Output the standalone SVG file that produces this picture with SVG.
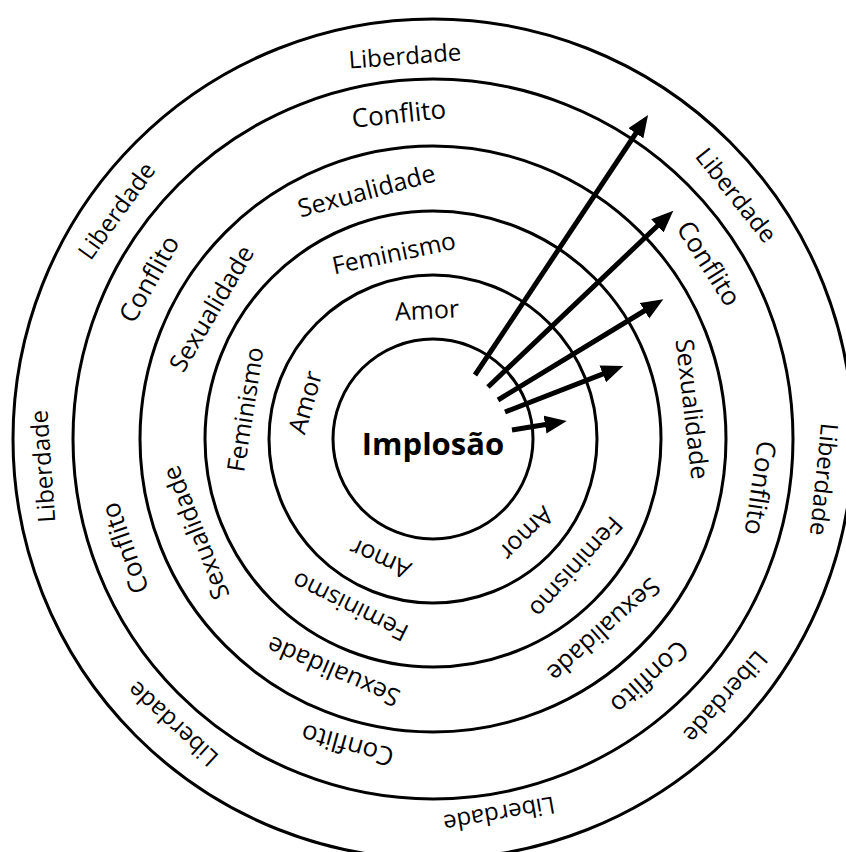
<svg xmlns="http://www.w3.org/2000/svg" width="846" height="852" viewBox="0 0 846 852">
<style>
.ring{fill:none;stroke:#000;stroke-width:3}
text{font-family:"Open Sans","DejaVu Sans",sans-serif;fill:#000;text-anchor:middle}
.lib{font-size:24px}
.con{font-size:26px}
.sex{font-size:25px}
.fem{font-size:24.5px}
.amo{font-size:25px}
.arr{stroke:#000;stroke-width:5;fill:none;marker-end:url(#ah)}
</style>
<defs>
<marker id="ah" markerUnits="userSpaceOnUse" markerWidth="24" markerHeight="20" refX="10" refY="9" orient="auto" viewBox="0 0 24 18">
<path d="M0,0 L22,9 L0,18 Z" fill="#000"/>
</marker>
</defs>
<rect width="846" height="852" fill="#fff"/>
<g id="ring-liberdade">
<circle class="ring" cx="433" cy="439" r="420"/>
<g transform="translate(433 439)">
<text class="lib" transform="rotate(-4.2)" y="-384" dy="0.35em">Liberdade</text>
<text class="lib" transform="rotate(-54.2)" y="-390" dy="0.35em">Liberdade</text>
<text class="lib" transform="rotate(-94)" y="-391" dy="0.35em">Liberdade</text>
<text class="lib" transform="rotate(222.4)" y="-386" dy="0.35em">Liberdade</text>
<text class="lib" transform="rotate(170)" y="-381" dy="0.35em">Liberdade</text>
<text class="lib" transform="rotate(131.4)" y="-390" dy="0.35em">Liberdade</text>
<text class="lib" transform="rotate(95.9)" y="-393" dy="0.35em">Liberdade</text>
<text class="lib" transform="rotate(51.2)" y="-389" dy="0.35em">Liberdade</text>
</g>
</g>
<g id="ring-conflito">
<circle class="ring" cx="433" cy="439" r="360"/>
<g transform="translate(433 439)">
<text class="con" transform="rotate(-6)" y="-327" dy="0.35em">Conflito</text>
<text class="con" transform="rotate(-60.6)" y="-326" dy="0.35em">Conflito</text>
<text class="con" transform="rotate(250.5)" y="-327" dy="0.35em">Conflito</text>
<text class="con" transform="rotate(195.6)" y="-318" dy="0.35em">Conflito</text>
<text class="con" transform="rotate(137.7)" y="-322" dy="0.35em">Conflito</text>
<text class="con" transform="rotate(98.5)" y="-331" dy="0.35em">Conflito</text>
<text class="con" transform="rotate(57.5)" y="-327" dy="0.35em">Conflito</text>
</g>
</g>
<g id="ring-sexualidade">
<circle class="ring" cx="433" cy="439" r="293"/>
<g transform="translate(433 439)">
<text class="sex" transform="rotate(-15)" y="-257" dy="0.35em">Sexualidade</text>
<text class="sex" transform="rotate(-59.5)" y="-257" dy="0.35em">Sexualidade</text>
<text class="sex" transform="rotate(248.4)" y="-255" dy="0.35em">Sexualidade</text>
<text class="sex" transform="rotate(203.2)" y="-253" dy="0.35em">Sexualidade</text>
<text class="sex" transform="rotate(138.2)" y="-256" dy="0.35em">Sexualidade</text>
<text class="sex" transform="rotate(83.4)" y="-261" dy="0.35em">Sexualidade</text>
</g>
</g>
<g id="ring-feminismo">
<circle class="ring" cx="433" cy="439" r="228"/>
<g transform="translate(433 439)">
<text class="fem" transform="rotate(-11.9)" y="-190" dy="0.35em">Feminismo</text>
<text class="fem" transform="rotate(-81)" y="-190" dy="0.35em">Feminismo</text>
<text class="fem" transform="rotate(206.3)" y="-187" dy="0.35em">Feminismo</text>
<text class="fem" transform="rotate(131.8)" y="-192" dy="0.35em">Feminismo</text>
</g>
</g>
<g id="ring-amor">
<circle class="ring" cx="433" cy="439" r="164"/>
<g transform="translate(433 439)">
<text class="amo" transform="rotate(-2.7)" y="-129" dy="0.35em">Amor</text>
<text class="amo" transform="rotate(-74)" y="-133" dy="0.35em">Amor</text>
<text class="amo" transform="rotate(203.8)" y="-131" dy="0.35em">Amor</text>
<text class="amo" transform="rotate(135.3)" y="-133" dy="0.35em">Amor</text>
</g>
</g>
<g id="implosao">
<circle class="ring" cx="433" cy="439" r="100"/>
<text x="433" y="455" style="font-size:31px;font-weight:bold">Implosão</text>
</g>
<g id="connectors">
<line class="arr" x1="475" y1="375" x2="641.4" y2="125"/>
<line class="arr" x1="488" y1="387" x2="664.6" y2="219"/>
<line class="arr" x1="498" y1="400" x2="653.1" y2="305.5"/>
<line class="arr" x1="505" y1="412" x2="612.1" y2="370.3"/>
<line class="arr" x1="512" y1="430" x2="554.9" y2="423"/>
</g>
</svg>
